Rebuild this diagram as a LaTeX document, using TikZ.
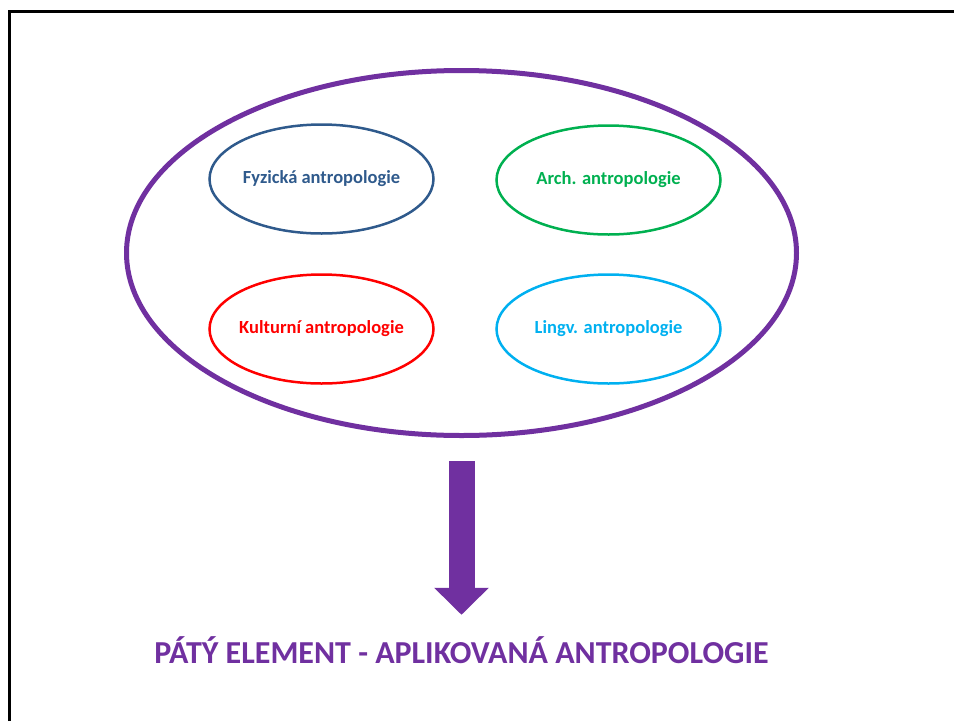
\documentclass[tikz,border=0pt]{standalone}
\usepackage{fontspec}
\setmainfont{Carlito}
\usepackage{tikz}
\usetikzlibrary{shapes,arrows.meta}
\definecolor{fialova}{HTML}{7030A0}
\definecolor{modra}{HTML}{2F5A8C}
\definecolor{zelena}{HTML}{00B050}
\definecolor{cervena}{HTML}{FF0000}
\definecolor{svetlemodra}{HTML}{00B0F0}
\newcommand{\tlusta}{5pt}
\newcommand{\tenka}{2.5pt}

\begin{document}
\begin{tikzpicture}[x=1pt,y=-1pt]
            \tikzset{Obor/.style = {ellipse, draw, line width=\tenka, minimum width=224pt, minimum height=109pt, inner xsep=-30pt, inner ysep=0pt, font=\bfseries\fontsize{18.5}{20}\selectfont}}
            \tikzset{Sipka/.style = {fialova, line width=26pt, -{Triangle[length=27pt,width=53pt]}}}
            \useasboundingbox (0,0) rectangle (954,721);
            \draw[line width=3pt] (9.5,721) -- (9.5,11.5) -- (954,11.5);
            
            \node[ellipse, draw=fialova, line width=\tlusta, minimum width=670pt, minimum height=365pt] (celek) at (461.5,253) {};
            
            \node[Obor, modra] (fyz) at (321.5,179) {Fyzická antropologie};
            \node[Obor, zelena] (arch) at (608.5,180) {Arch. antropologie};
            \node[Obor, cervena] (kult) at (321.5,329) {Kulturní antropologie};
            \node[Obor, svetlemodra] (ling) at (608.5,329) {Lingv. antropologie};
            
            \node[fialova, inner sep=0pt, text height=22pt, text depth=0pt, font=\bfseries\fontsize{32}{36}\selectfont] (nazev) at (461.5,652) {PÁTÝ ELEMENT - APLIKOVANÁ ANTROPOLOGIE};
            \draw[Sipka, shorten <=23pt, shorten >=26pt] (celek.south) -- (nazev.north);
        \end{tikzpicture}
\end{document}
